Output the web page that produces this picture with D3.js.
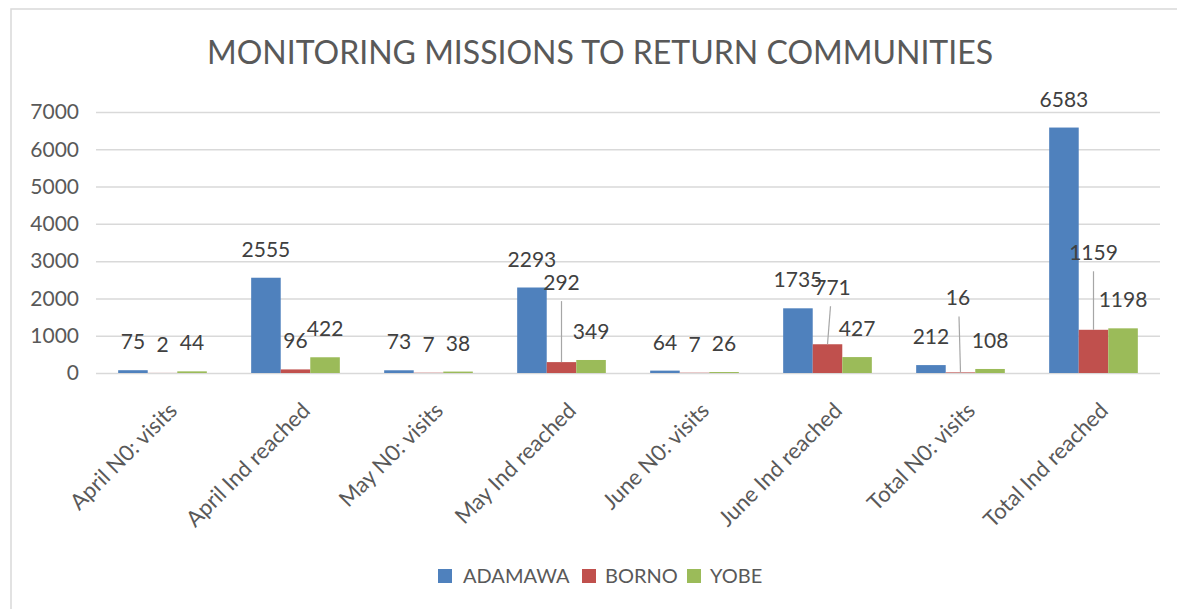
<!DOCTYPE html>
<html>
<head>
<meta charset="utf-8">
<script src="https://cdn.jsdelivr.net/npm/d3@7"></script>
<style>
  html, body { margin: 0; padding: 0; background: #fff; }
  svg { display: block; }
  text { font-family: Lato, "Open Sans", sans-serif; }
</style>
</head>
<body>
<svg id="chart" width="1177" height="609"></svg>
<script>
// ---- data ----
const title = "MONITORING MISSIONS TO RETURN COMMUNITIES";
const categories = ["April N0: visits", "April Ind reached", "May N0: visits", "May Ind reached",
                    "June N0: visits", "June Ind reached", "Total N0: visits", "Total Ind reached"];
const seriesNames = ["ADAMAWA", "BORNO", "YOBE"];
const adamawa = [75, 2555, 73, 2293, 64, 1735, 212, 6583];
const borno   = [2, 96, 7, 292, 7, 771, 16, 1159];
const yobe    = [44, 422, 38, 349, 26, 427, 108, 1198];
const yTicks  = [0, 1000, 2000, 3000, 4000, 5000, 6000, 7000];
const colors  = ["#4F81BD", "#C0504D", "#9BBB59"];

// manually moved data labels (series index, category index) -> pixel nudge, with leader lines
const labelNudges = [
  { s: 1, c: 3, dx: 0,    dy: -51 },
  { s: 1, c: 5, dx: 5,    dy: -28 },
  { s: 1, c: 6, dx: -2.5, dy: -46 },
  { s: 1, c: 7, dx: 0,    dy: -48.5 }
];

const values = [adamawa, borno, yobe];

// ---- layout ----
const svg = d3.select("#chart");
const plot = { left: 96, right: 1160, top: 112, bottom: 373 };
const textColor = "#595959";
const labelColor = "#404040";
const gridColor = "#d9d9d9";
const fs = 21;

// chart border
svg.append("rect")
  .attr("x", 11).attr("y", 9).attr("width", 1185).attr("height", 620)
  .attr("fill", "#fff").attr("stroke", gridColor).attr("stroke-width", 1.5);

// title
svg.append("text")
  .attr("x", 600).attr("y", 63.5)
  .attr("text-anchor", "middle")
  .attr("fill", textColor)
  .attr("font-size", 32)
  .text(title);

const y = d3.scaleLinear().domain([0, 7000]).range([plot.bottom, plot.top]);
const x0 = d3.scaleBand().domain(categories).range([plot.left, plot.right])
  .paddingInner(1 / 3).paddingOuter(1 / 6);
const x1 = d3.scaleBand().domain(seriesNames).range([0, x0.bandwidth()]);

// gridlines
const yAxis = d3.axisLeft(y).tickValues(yTicks).tickFormat(d3.format("d"))
  .tickSize(-(plot.right - plot.left)).tickPadding(17);
const gy = svg.append("g").attr("transform", `translate(${plot.left},0)`).call(yAxis);
gy.select(".domain").remove();
gy.selectAll(".tick line").attr("stroke", gridColor).attr("stroke-width", 1.5);
gy.selectAll(".tick text").attr("fill", textColor).attr("font-size", fs)
  .attr("font-family", "Lato, 'Open Sans', sans-serif");

// bars
const groups = svg.append("g").selectAll("g")
  .data(categories).join("g")
  .attr("transform", d => `translate(${x0(d)},0)`);

seriesNames.forEach((name, si) => {
  groups.append("rect")
    .attr("x", x1(name))
    .attr("width", x1.bandwidth())
    .attr("y", (d, ci) => y(values[si][ci]))
    .attr("height", (d, ci) => y(0) - y(values[si][ci]))
    .attr("fill", colors[si]);
});

// data labels
const labelLift = 28.5;
seriesNames.forEach((name, si) => {
  categories.forEach((cat, ci) => {
    const v = values[si][ci];
    const cx = x0(cat) + x1(name) + x1.bandwidth() / 2;
    const top = y(v);
    const nudge = labelNudges.find(n => n.s === si && n.c === ci);
    const lx = cx + (nudge ? nudge.dx : 0);
    const ly = top - labelLift + (nudge ? nudge.dy : 0);
    if (nudge) {
      svg.append("line")
        .attr("x1", cx).attr("y1", top)
        .attr("x2", cx + nudge.dx * 0.6).attr("y2", ly + 18.5)
        .attr("stroke", "#a6a6a6").attr("stroke-width", 1.2);
    }
    svg.append("text")
      .attr("x", lx).attr("y", ly).attr("dy", "0.36em")
      .attr("text-anchor", "middle")
      .attr("fill", labelColor).attr("font-size", fs)
      .text(d3.format("d")(v));
  });
});

// x axis labels (rotated)
svg.append("g").selectAll("text")
  .data(categories).join("text")
  .attr("transform", d => `translate(${x0(d) + x0.bandwidth() / 2 + 16},${plot.bottom + 39}) rotate(-45)`)
  .attr("text-anchor", "end")
  .attr("fill", textColor).attr("font-size", 22)
  .text(d => d);

// legend
const legendItems = [
  { name: seriesNames[0], sx: 438, tx: 463 },
  { name: seriesNames[1], sx: 582, tx: 605 },
  { name: seriesNames[2], sx: 687, tx: 710 }
];
const lg = svg.append("g");
legendItems.forEach((it, i) => {
  lg.append("rect").attr("x", it.sx).attr("y", 569).attr("width", 14).attr("height", 14).attr("fill", colors[i]);
  lg.append("text").attr("x", it.tx).attr("y", 583).attr("fill", textColor).attr("font-size", 20).text(it.name);
});
</script>
</body>
</html>
